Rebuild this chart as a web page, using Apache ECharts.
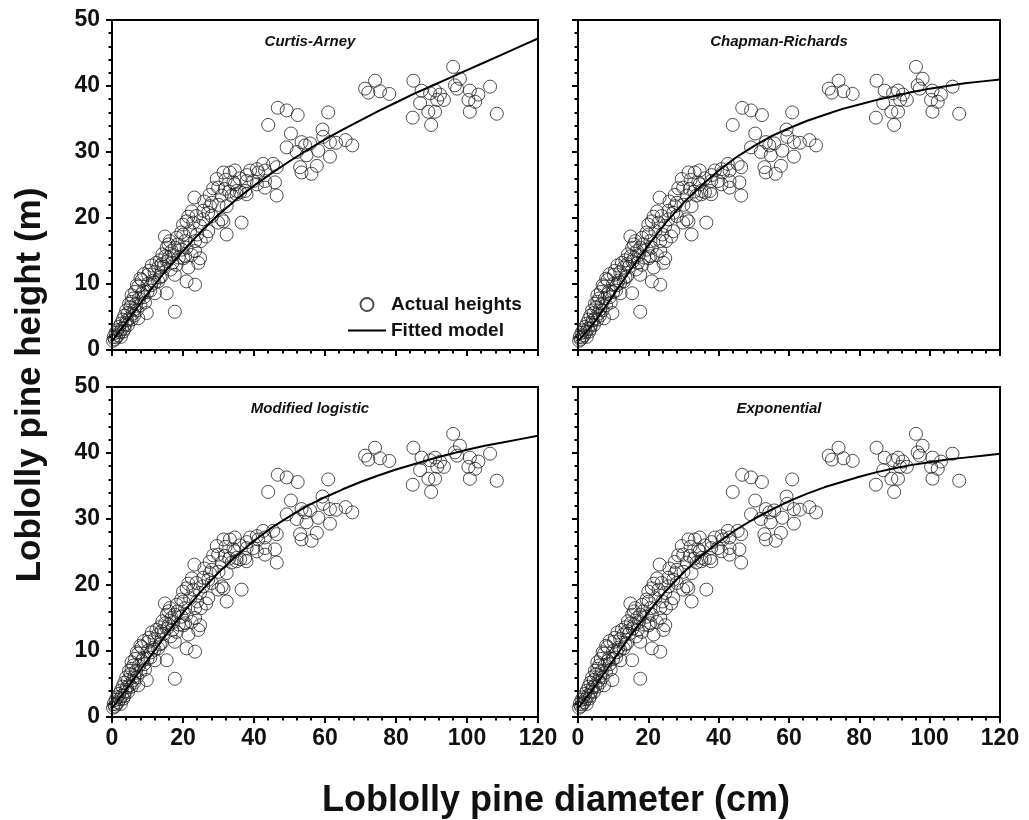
<!DOCTYPE html>
<html><head><meta charset="utf-8">
<script src="https://cdn.jsdelivr.net/npm/echarts@6/dist/echarts.min.js"></script>
<style>html,body{margin:0;padding:0;background:#fff}#c{width:1029px;height:820px}</style>
</head><body><div id="c"></div>
<script>
// ---- data ----
const panelTitles = ['Curtis-Arney', 'Chapman-Richards', 'Modified logistic', 'Exponential'];
const xTicks = [0, 20, 40, 60, 80, 100, 120];
const yTicks = [0, 10, 20, 30, 40, 50];

// observed trees: diameter (cm) and height (m)
const obsDiameter = [
0.3,0.5,0.8,1.0,1.2,1.5,1.7,2.0,2.2,2.5,2.5,2.8,3.0,3.2,3.5,3.5,3.8,4.0,4.2,4.5,4.5,4.8,5.0,5.2,5.5,5.5,5.5,5.8,6.0,6.2,6.3,6.5,6.8,7.0,7.0,7.4,7.4,7.6,8.0,8.0,8.4,8.5,8.8,9.0,9.0,9.3,9.8,10.0,10.0,10.2,10.5,10.8,11.0,11.2,11.5,12.0,12.0,12.1,12.5,13.0,13.0,13.5,13.5,14.0,14.0,14.2,14.5,14.9,15.0,15.4,15.4,15.5,15.9,16.0,16.3,16.5,16.8,17.0,17.3,17.7,17.7,17.7,
18.2,18.2,18.5,18.8,19.5,19.6,20.0,20.1,20.1,20.6,20.6,21.0,21.0,21.0,21.5,21.5,22.0,22.4,22.5,22.9,23.2,23.4,23.4,23.4,23.8,24.0,24.3,24.8,24.8,25.0,25.7,25.7,26.0,26.5,
27.1,27.1,27.5,27.6,28.1,28.1,28.5,29.5,29.9,29.9,30.0,30.9,30.9,31.4,31.4,31.8,32.0,32.3,32.3,33.0,33.2,33.7,34.2,34.6,34.6,35.1,35.1,36.0,36.1,36.5,37.5,37.9,37.9,38.0,38.9,
39.8,40.8,40.8,41.2,42.6,43.1,43.1,43.1,44.0,45.4,45.9,46.4,46.4,46.7,
49.2,49.2,50.4,52.0,52.3,53.0,53.4,53.4,54.4,54.8,55.8,56.2,57.7,58.1,59.3,59.5,60.9,61.4,61.4,63.1,65.8,67.7,
71.3,72.2,74.1,75.5,78.1,84.7,84.9,86.8,87.2,89.1,89.6,89.9,91.0,91.0,91.6,92.4,93.5,96.1,96.6,97.2,98.0,100.4,100.8,100.8,102.3,103.2,106.5,108.4
];
const obsHeight = [
1.4,2.0,1.6,2.6,1.9,3.0,2.2,3.5,2.7,4.0,2.0,3.2,4.6,2.8,5.2,3.2,3.9,6.0,4.5,5.6,3.8,7.0,4.8,6.5,8.3,7.3,4.6,5.5,7.8,5.2,6.2,8.8,7.0,9.8,6.0,9.6,4.8,7.8,10.8,6.8,10.6,8.5,8.9,11.5,8.0,7.2,5.6,10.0,8.8,11.4,12.0,9.0,9.8,12.8,10.5,11.8,10.2,8.6,13.2,10.4,12.5,13.6,11.0,11.2,13.0,14.5,12.6,17.2,14.2,15.5,8.6,13.4,16.0,14.0,16.5,12.2,15.0,13.2,14.4,15.5,11.4,5.8,
17.0,12.9,16.0,14.0,17.8,15.2,19.0,17.5,13.9,16.5,14.2,19.5,15.5,10.4,12.5,20.2,18.0,14.4,21.0,19.3,23.1,16.5,15.0,9.9,20.3,17.5,13.2,18.8,13.9,16.5,21.1,19.8,22.5,17.2,
20.8,18.0,23.5,21.8,20.3,22.3,24.5,25.9,24.6,19.3,22.0,23.4,19.8,26.9,19.5,24.4,25.8,21.8,17.5,24.0,26.9,23.4,25.4,27.2,25.1,24.1,23.6,26.0,23.9,19.3,24.1,25.6,23.6,26.5,27.2,
25.6,27.4,25.1,26.9,28.2,27.2,25.6,24.6,34.1,28.2,25.4,27.7,23.4,36.7,
36.3,30.7,32.8,30.0,35.6,27.7,31.5,26.9,31.0,29.5,31.3,26.7,27.9,30.2,33.4,32.3,36.0,31.5,29.3,31.4,31.8,31.0,
39.6,39.0,40.8,39.2,38.8,35.2,40.8,37.4,39.3,36.1,38.9,34.1,39.3,36.1,37.9,38.7,37.9,42.9,40.1,39.6,41.1,37.9,39.3,36.1,37.6,38.7,39.9,35.8
];

// fitted curves (diameter grid every 5 cm, heights in m)
const curveDiameter = [0,5,10,15,20,25,30,35,40,45,50,55,60,65,70,75,80,85,90,95,100,105,110,115,120];
const curtisArney     = [1.3,4.9,8.5,11.9,15.0,17.9,20.5,22.8,24.9,26.8,28.6,30.3,31.9,33.4,34.8,36.2,37.5,38.8,40.0,41.2,42.4,43.6,44.8,46.0,47.2];
const chapmanRichards = [1.3,4.4,8.3,12.2,15.9,19.3,22.3,24.9,27.2,29.2,30.9,32.4,33.6,34.7,35.6,36.5,37.2,37.9,38.5,39.1,39.6,40.0,40.4,40.7,41.0];
const modLogistic     = [1.3,4.9,8.6,12.3,15.8,19.0,21.9,24.4,26.7,28.7,30.4,32.0,33.3,34.5,35.6,36.6,37.5,38.3,39.1,39.8,40.5,41.1,41.6,42.1,42.6];
const exponential     = [1.3,4.8,8.6,12.4,15.9,19.1,21.9,24.4,26.5,28.4,30.0,31.4,32.7,33.8,34.8,35.6,36.4,37.1,37.7,38.2,38.6,39.0,39.3,39.6,39.9];
const curves = [curtisArney, chapmanRichards, modLogistic, exponential];

// ---- chart ----
const FONT = '"Liberation Sans", Arial, sans-serif';
const grids = [
  {left: 112, top: 20, width: 426, height: 330},
  {left: 578, top: 20, width: 422, height: 330},
  {left: 112, top: 387, width: 426, height: 330},
  {left: 578, top: 387, width: 422, height: 330}
].map(g => Object.assign({show: true, borderColor: '#000', borderWidth: 2, backgroundColor: 'transparent'}, g));

const obs = obsDiameter.map((d, i) => [d, obsHeight[i]]);

const xAxes = [], yAxes = [], series = [];
for (let i = 0; i < 4; i++) {
  xAxes.push({
    type: 'value', gridIndex: i, min: xTicks[0], max: xTicks[xTicks.length - 1], interval: 20,
    axisLine: {onZero: false, lineStyle: {color: '#000', width: 2}},
    axisTick: {length: 6, lineStyle: {color: '#000', width: 2}},
    minorTick: {show: true, splitNumber: 5, length: 3.5, lineStyle: {color: '#000', width: 2}},
    splitLine: {show: false},
    axisLabel: {show: i >= 2, color: '#111', fontSize: 23, fontWeight: 'bold', fontFamily: FONT, margin: 10}
  });
  yAxes.push({
    type: 'value', gridIndex: i, min: yTicks[0], max: yTicks[yTicks.length - 1], interval: 10,
    axisLine: {onZero: false, lineStyle: {color: '#000', width: 2}},
    axisTick: {length: 6, lineStyle: {color: '#000', width: 2}},
    minorTick: {show: true, splitNumber: 5, length: 3.5, lineStyle: {color: '#000', width: 2}},
    splitLine: {show: false},
    axisLabel: {show: i % 2 === 0, color: '#111', fontSize: 23, fontWeight: 'bold', fontFamily: FONT, margin: 12}
  });
  series.push({
    type: 'scatter', name: i === 0 ? 'Actual heights' : 'obs' + i, xAxisIndex: i, yAxisIndex: i,
    data: obs, symbol: 'circle', symbolSize: 13,
    itemStyle: {color: 'rgba(255,255,255,0)', borderColor: '#222', borderWidth: 1},
    z: 2
  });
  series.push({
    type: 'line', name: i === 0 ? 'Fitted model' : 'fit' + i, xAxisIndex: i, yAxisIndex: i,
    data: curveDiameter.map((d, k) => [d, curves[i][k]]),
    smooth: false, symbol: 'none', showSymbol: false,
    lineStyle: {color: '#000', width: 2}, itemStyle: {color: '#000'},
    z: 3
  });
}

const titlePos = [[310, 42], [779, 42], [310, 409], [779, 409]];
const graphics = panelTitles.map((t, i) => ({
  type: 'text', x: titlePos[i][0], y: titlePos[i][1],
  style: {text: t, align: 'center', verticalAlign: 'middle', font: 'italic bold 15px ' + FONT, fill: '#111'}
}));
graphics.push({
  type: 'text', x: 30, y: 385, rotation: Math.PI / 2,
  style: {text: 'Loblolly pine height (m)', align: 'center', verticalAlign: 'middle', font: 'bold 35px ' + FONT, fill: '#111'}
});
graphics.push({
  type: 'text', x: 556, y: 801,
  style: {text: 'Loblolly pine diameter (cm)', align: 'center', verticalAlign: 'middle', font: 'bold 36px ' + FONT, fill: '#111'}
});

const chart = echarts.init(document.getElementById('c'), null, {renderer: 'canvas'});
chart.setOption({
  animation: false,
  backgroundColor: '#fff',
  grid: grids,
  xAxis: xAxes,
  yAxis: yAxes,
  legend: {
    data: [
      {name: 'Actual heights', icon: 'circle'},
      {name: 'Fitted model', icon: 'path://M0,0 L38,0 L38,2 L0,2 Z', itemStyle: {color: '#000', borderWidth: 0}}
    ],
    orient: 'vertical', left: 343, top: 290, itemGap: 7,
    itemWidth: 38, itemHeight: 13,
    textStyle: {color: '#111', fontSize: 19, fontWeight: 'bold', fontFamily: FONT},
    selectedMode: false
  },
  graphic: graphics,
  series: series
});
</script></body></html>
